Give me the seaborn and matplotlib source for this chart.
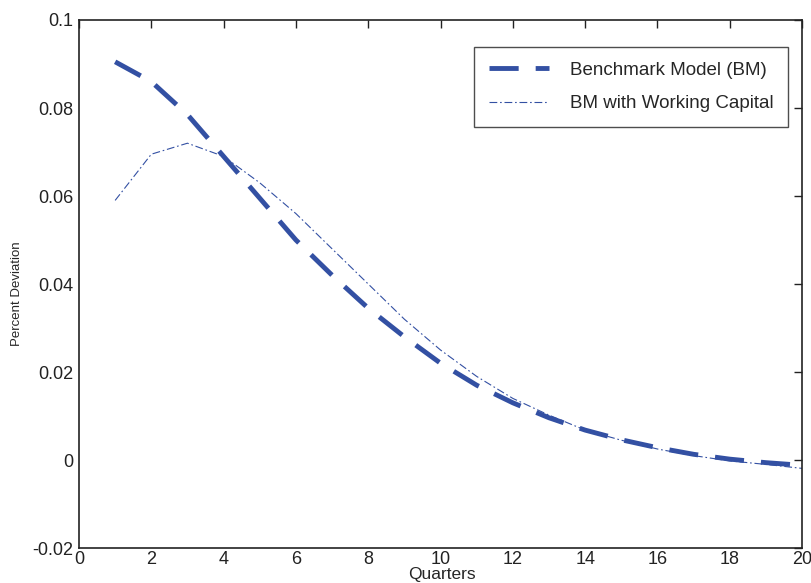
import matplotlib
matplotlib.use("Agg")
import matplotlib.pyplot as plt
import seaborn as sns
import pandas as pd

quarters = list(range(1, 21))
benchmark = [0.0905, 0.086, 0.0785, 0.069, 0.0595, 0.050, 0.042, 0.0345, 0.028, 0.022,
             0.017, 0.013, 0.0096, 0.0068, 0.0046, 0.0028, 0.0013, 0.0002, -0.0006, -0.0012]
working_cap = [0.059, 0.0695, 0.072, 0.069, 0.063, 0.056, 0.048, 0.040, 0.032, 0.025,
               0.019, 0.014, 0.0102, 0.0068, 0.0045, 0.0025, 0.0010, -0.0002, -0.0010, -0.0019]
series_names = ["Benchmark Model (BM)", "BM with Working Capital"]
x_ticks = list(range(0, 21, 2))
y_ticks = [-0.02, 0, 0.02, 0.04, 0.06, 0.08, 0.1]
y_tick_labels = ["-0.02", "0", "0.02", "0.04", "0.06", "0.08", "0.1"]

sns.set_style("white")
plt.rcParams['font.family'] = ['Liberation Sans', 'DejaVu Sans']

df = pd.DataFrame({
    "Quarters": quarters * 2,
    "value": benchmark + working_cap,
    "series": [series_names[0]] * 20 + [series_names[1]] * 20,
})

fig = plt.figure(figsize=(8.11, 5.83), dpi=100)
ax = fig.add_axes([0.0974, 0.060, 0.8916, 0.9057])

color = "#3350a3"
sns.lineplot(data=df[df.series == series_names[0]], x="Quarters", y="value", ax=ax,
             color=color, linewidth=3.5, label=series_names[0])
ax.lines[-1].set_dashes([6, 3.5])
sns.lineplot(data=df[df.series == series_names[1]], x="Quarters", y="value", ax=ax,
             color=color, linewidth=0.8, label=series_names[1])
ax.lines[-1].set_dashes([7, 2.5, 1.5, 2.5])

ax.set_xlim(0, 20)
ax.set_ylim(-0.02, 0.1)
ax.set_xticks(x_ticks)
ax.set_yticks(y_ticks)
ax.set_yticklabels(y_tick_labels)
ax.tick_params(direction="in", length=6, width=1, top=True, right=True,
               labelsize=13, colors="#222222", pad=4)
ax.tick_params(axis="x", pad=2)
for s in ax.spines.values():
    s.set_visible(True)
    s.set_color("#222222")
    s.set_linewidth(1.2)

ax.set_xlabel("Quarters", fontsize=12.5)
ax.xaxis.set_label_coords(0.502, -0.036)
ax.xaxis.label.set_verticalalignment("top")
ax.set_ylabel("Percent Deviation", fontsize=9.5, fontstretch="condensed")
ax.yaxis.set_label_coords(-0.086, 0.481)
ax.yaxis.label.set_verticalalignment("center")

leg = ax.legend(loc="upper right", bbox_to_anchor=(0.981, 0.949), fontsize=13.5,
                frameon=True, fancybox=False, edgecolor="#222222", borderaxespad=0,
                handlelength=3.2, borderpad=0.8, labelspacing=0.85, handletextpad=1.1)
leg.get_frame().set_linewidth(1.0)

fig.savefig("out.png", dpi=100)
